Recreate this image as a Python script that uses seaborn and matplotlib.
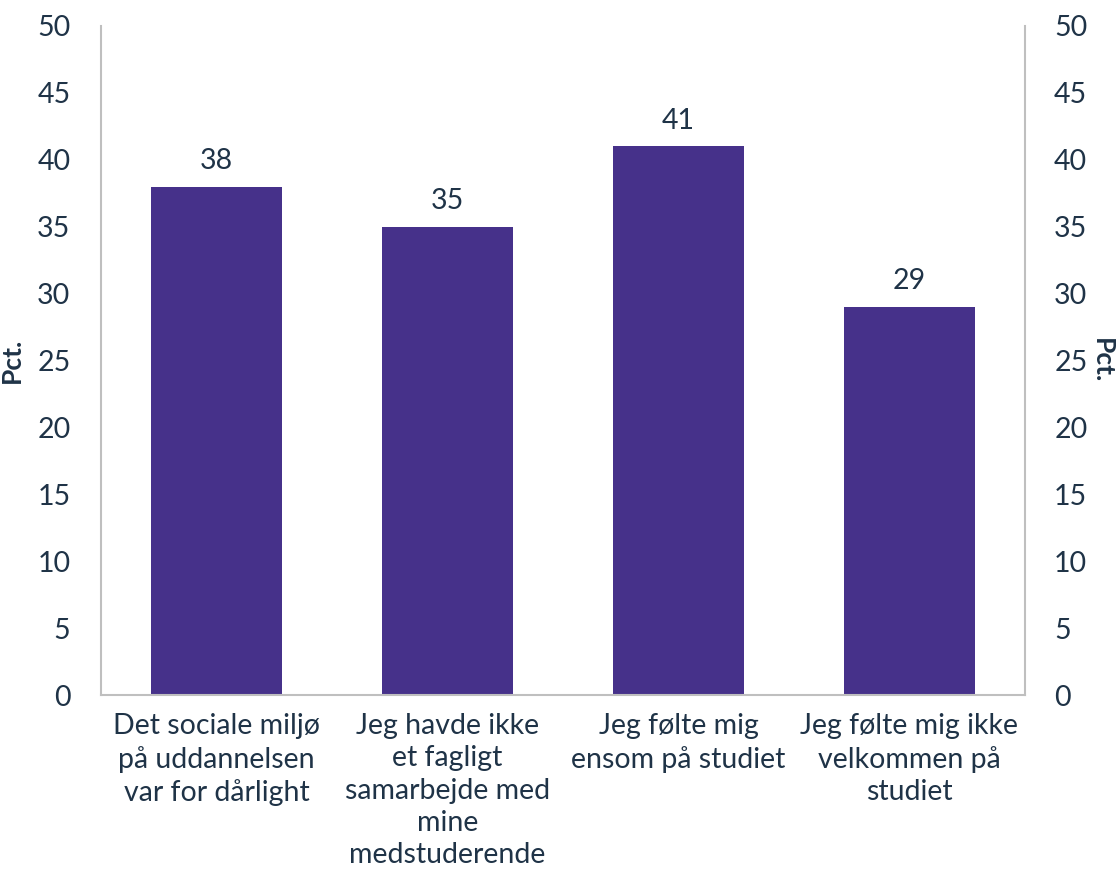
import matplotlib
matplotlib.use("Agg")
import matplotlib.pyplot as plt
import seaborn as sns
import pandas as pd

# data
categories = [
    "Det sociale miljø\npå uddannelsen\nvar for dårlight",
    "Jeg havde ikke\net fagligt\nsamarbejde med\nmine\nmedstuderende",
    "Jeg følte mig\nensom på studiet",
    "Jeg følte mig ikke\nvelkommen på\nstudiet",
]
values = [38, 35, 41, 29]
yticks = [0, 5, 10, 15, 20, 25, 30, 35, 40, 45, 50]

bar_color = "#46318a"
text_color = "#1f3347"
axis_color = "#bfbfbf"

sns.set_theme(style="white")
plt.rcParams["font.family"] = ["Lato", "DejaVu Sans"]

df = pd.DataFrame({"kategori": categories, "pct": values})

fig = plt.figure(figsize=(11.19, 8.72), dpi=100)
ax = fig.add_axes([101 / 1119, 1 - 695 / 872, 924 / 1119, 669 / 872])

sns.barplot(data=df, x="kategori", y="pct", color=bar_color, width=0.57,
            saturation=1, linewidth=0, ax=ax)

ax.set_ylim(0, 50)
ax.set_yticks(yticks)
ax.set_xlim(-0.5, len(categories) - 0.5)
ax.set_xlabel("")
ax.set_ylabel("Pct.", fontsize=19, fontweight="bold", color=text_color)
ax.yaxis.set_label_coords(-0.083, 0.5)
ax.tick_params(axis="y", length=0, labelsize=20.5, labelcolor=text_color, pad=22)
ax.tick_params(axis="x", length=0, labelsize=20.5, labelcolor=text_color, pad=13)
for lbl in ax.get_xticklabels():
    lbl.set_linespacing(1.3)

for side in ["top", "right"]:
    ax.spines[side].set_visible(False)
for side in ["left", "bottom"]:
    ax.spines[side].set_color(axis_color)
    ax.spines[side].set_linewidth(1.5)

for c in ax.containers:
    ax.bar_label(c, fmt="%d", padding=9, fontsize=20.5, color=text_color)

# right axis mirrors the left one
ax2 = ax.twinx()
ax2.set_ylim(0, 50)
ax2.set_yticks(yticks)
ax2.tick_params(axis="y", length=0, labelsize=20.5, labelcolor=text_color, pad=21)
ax2.set_ylabel("Pct.", fontsize=19, fontweight="bold", color=text_color,
               rotation=270, va="center")
ax2.yaxis.set_label_coords(1.083, 0.5)
for side in ["top", "left", "bottom"]:
    ax2.spines[side].set_visible(False)
ax2.spines["right"].set_color(axis_color)
ax2.spines["right"].set_linewidth(1.5)
ax2.grid(False)

fig.savefig("out.png", dpi=100)
